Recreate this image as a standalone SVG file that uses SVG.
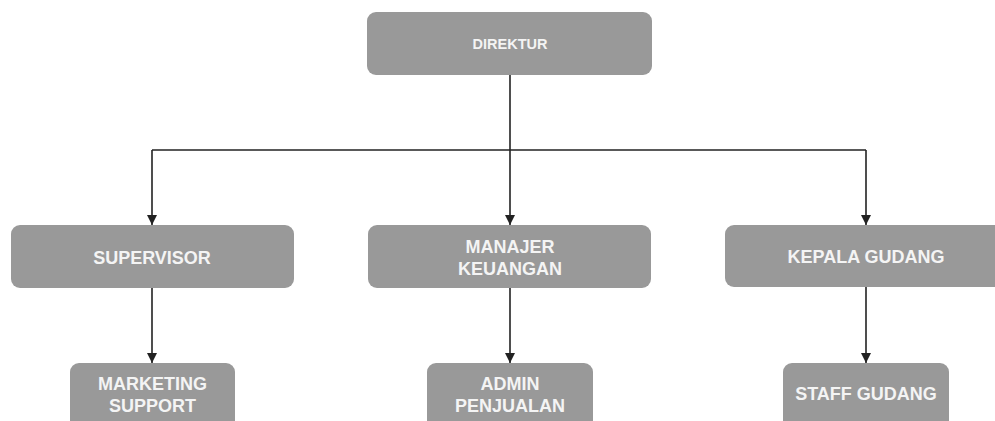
<svg xmlns="http://www.w3.org/2000/svg" width="995" height="421" viewBox="0 0 995 421">
<style>
.box{fill:#999999;}
.t{font-family:"Liberation Sans",Arial,sans-serif;font-weight:bold;fill:#f4f4f4;text-anchor:middle;font-size:18px;}
.line{stroke:#222;stroke-width:1.6;fill:none;}
</style>
<defs>
<marker id="arr" viewBox="0 0 10 10" refX="10" refY="5" markerWidth="10" markerHeight="10" markerUnits="userSpaceOnUse" orient="auto">
<path d="M0,0 L10,5 L0,10 Z" fill="#222"/>
</marker>
</defs>
<rect width="995" height="421" fill="#ffffff"/>
<g id="connectors">
<path class="line" d="M510,75 V150"/>
<path class="line" d="M152,150 H866"/>
<path class="line" d="M152,150 V225" marker-end="url(#arr)"/>
<path class="line" d="M510,150 V225" marker-end="url(#arr)"/>
<path class="line" d="M866,150 V225" marker-end="url(#arr)"/>
<path class="line" d="M152,288 V363" marker-end="url(#arr)"/>
<path class="line" d="M510,288 V363" marker-end="url(#arr)"/>
<path class="line" d="M866,287 V363" marker-end="url(#arr)"/>
</g>
<g id="direktur">
<rect class="box" x="367" y="12" width="285" height="63" rx="9"/>
<text class="t" x="510" y="48.5" style="font-size:14.5px">DIREKTUR</text>
</g>
<g id="supervisor">
<rect class="box" x="11" y="225" width="283" height="63" rx="9"/>
<text class="t" x="152" y="263.5">SUPERVISOR</text>
</g>
<g id="manajer-keuangan">
<rect class="box" x="368" y="225" width="283" height="63" rx="9"/>
<text class="t" x="510" y="252.5">MANAJER</text>
<text class="t" x="510" y="274.5">KEUANGAN</text>
</g>
<g id="kepala-gudang">
<rect class="box" x="725" y="225" width="283" height="62" rx="9"/>
<text class="t" x="866" y="263">KEPALA GUDANG</text>
</g>
<g id="marketing-support">
<rect class="box" x="70" y="363" width="165" height="70" rx="9"/>
<text class="t" x="152.5" y="389.5">MARKETING</text>
<text class="t" x="152.5" y="411.5">SUPPORT</text>
</g>
<g id="admin-penjualan">
<rect class="box" x="427" y="363" width="166" height="70" rx="9"/>
<text class="t" x="510" y="389.5">ADMIN</text>
<text class="t" x="510" y="411.5">PENJUALAN</text>
</g>
<g id="staff-gudang">
<rect class="box" x="783" y="363" width="166" height="70" rx="9"/>
<text class="t" x="866" y="399.5">STAFF GUDANG</text>
</g>
</svg>
